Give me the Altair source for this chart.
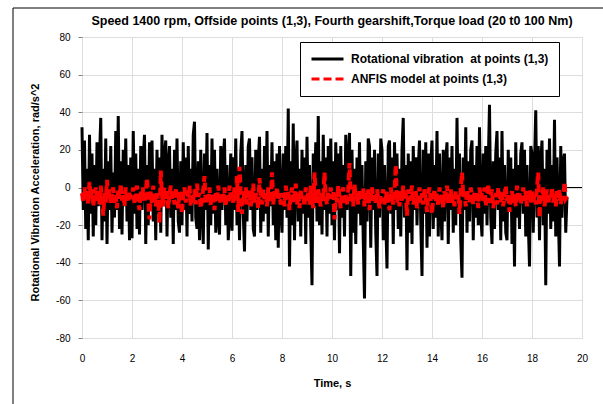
import altair as alt
import pandas as pd

STEP = 0.05  # sampling interval, s

vibration = [
    32, -12, 25, -22, 10, -28, 28, -14, 18, -26, 12, -20, 24, -10, 16, 37, -28, 10, -18, 26,
    -30, 14, -12, 22, -24, 8, -16, 30, -12, 38, -22, 14, -25, 20, -10, 26, -18, 12, -28, 16,
    -27, 30, -14, 18, -22, 10, -25, 22, -12, 16, 28, -30, 12, -20, 24, -12, 25, -18, 10, -28,
    20, -14, 16, -24, 28, -10, 18, 25, -26, 12, 22, -16, 10, -30, 20, -12, 26, -18, -24, 14,
    -20, 24, -12, 16, -26, 22, -14, 10, -18, 28, 35, -16, -22, 14, -28, 20, -10, -30, 18, -12,
    29, -33, 12, -20, 26, -14, 20, -24, 10, -16, -25, 22, -12, 16, 26, -20, 12, -28, -14, 18,
    -23, 16, -12, 26, -20, 10, -28, 18, 30, -14, -34, 12, -18, 22, 26, -12, 16, -22, -26, 20,
    -12, 14, 27, -24, 10, -18, 22, -14, 30, -26, 12, -10, 24, -20, 14, -28, 18, -32, 22, -12,
    -24, 18, -12, 22, -16, 42, -42, 14, -20, 34, -28, 12, 25, -18, 10, -26, 20, -14, 16, -30,
    27, -16, 12, -22, -52, 18, -10, 24, -18, 38, -20, 14, -25, 28, -12, 16, -26, 22, -14, 26,
    -20, 14, -28, 24, -12, 18, -35, 22, -16, 12, -26, 28, -12, 16, 29, -47, 20, -24, 10, -30,
    16, -14, 24, -20, 12, -28, -59, 14, -18, 26, 22, -32, 16, -12, 20, -24, -47, 18, -16, 26,
    20, -28, 12, -18, -43, 22, 25, -14, 16, -30, 24, -12, 18, -22, 10, -26, 20, 37, -16, 12,
    -44, 18, -24, 14, -30, 22, -12, 16, -20, 10, 25, -18, -47, 20, -14, 24, -32, 18, -26, 12,
    25, -22, 12, -16, 30, -26, 18, -12, -28, 20, -18, 14, 24, -30, 16, -12, 22, -24, 10, -20,
    37, -14, 18, -28, -48, 16, -12, 32, -24, 14, -18, 20, 25, -28, 12, -16, 22, -20, 32, -14,
    -26, 18, -14, 22, -20, 12, 44, -16, -30, 14, -22, 18, 30, -12, 16, -28, 30, -18, 12, -24,
    -28, 20, -12, 16, -30, 10, -42, 24, -16, 12, -22, 18, 24, -14, 20, -26, 12, -18, -42, 22,
    18, -24, 12, 41, -16, 22, -28, 14, 25, -20, 10, -52, 20, -14, 26, -22, 12, -18, 36, -26,
    16, -12, -42, 22, -16, 14, 18, -24, -5,
]

anfis = [
    -3, -8, 0, -6, -2, -9, 3, -5, -1, -10, -4, 0, -7, -2, -9, 1, -6, -15, -3, -8,
    4, -6, -1, -9, -3, 0, -8, -4, -11, -1, -6, 2, -7, -3, -10, 0, -5, -8, -2, -6,
    -4, 0, -9, -3, 1, -7, -12, -2, -6, 0, -8, -3, 5, -6, -17, -2, -9, 1, -5, -10,
    -3, -7, -19, 9, -4, -10, 0, -6, -2, -11, -4, 1, -7, -3, -9, 0, -6, -11, -2, -5,
    -14, -3, 0, -8, -2, -6, 1, -10, -4, -7, -1, -9, 2, -5, -3, -11, -6, -1, 6, -9,
    -4, -7, 0, -10, -3, -6, -12, -2, -8, 1, -5, -9, -3, -6, 0, -10, -4, -7, 1, -5,
    -4, -8, 0, -7, 6, -13, 11, -3, -14, -2, -7, 0, -9, -4, -1, -10, -5, 2, -8, -3,
    -6, -11, 5, -4, -9, -1, -6, -3, -10, 0, -5, -8, 8, -9, -2, -6, 0, -7, -3, -9,
    -7, -3, -10, 1, -6, -2, -12, -4, 0, -8, -5, 2, -9, -3, -11, -1, -6, -4, -10, 0,
    -7, -3, -9, 1, -5, -11, 8, -4, -8, -1, -6, -10, -2, -7, 8, -5, -9, -2, -6, 0,
    -6, -2, -17, -3, -8, 1, -5, -11, -3, 0, -8, -4, -9, -1, 13, -7, -4, -10, 2, -6,
    -3, -9, -1, -7, -4, 0, -10, -3, -8, -1, -12, -5, 0, -7, -3, -9, -1, -6, -11, -4,
    -4, -1, -9, -6, -2, -8, -12, 0, -5, -9, -3, 12, -8, -5, -10, -2, -7, 1, -6, -3,
    -15, -1, -7, -4, 1, -9, -6, -2, -11, -5, 0, -8, -3, -9, -1, -6, -13, -3, 0, -7,
    -14, -5, -1, -8, -3, -10, 0, -6, -4, -11, -2, -7, 1, -9, -4, -1, -8, -5, -10, -2,
    -6, -3, -14, -1, 8, -5, -3, -10, -1, -6, -8, 0, -4, -9, -2, -7, -3, -11, 0, -6,
    -3, -7, 0, -10, -5, 2, -8, -4, -1, -11, -6, -3, -9, 0, -5, -8, -2, -10, -4, 1,
    -7, -3, -13, -5, -2, -8, -4, -10, 1, -6, -3, -9, -5, 0, -7, -2, -10, -4, -1, -8,
    -2, -8, -4, -9, 0, 8, -16, -3, -7, 0, -10, -5, -1, -9, -4, -6, 0, -8, -3, -10,
    -2, -6, -1, -9, -4, -7, 3, -6, -5,
]

series_names = ["Rotational vibration \u00a0at points (1,3)", "ANFIS model at points (1,3)"]
series_colors = ["#000000", "#ff0000"]
x_ticks = [0, 2, 4, 6, 8, 10, 12, 14, 16, 18, 20]
y_ticks = [-80, -60, -40, -20, 0, 20, 40, 60, 80]

time = [round(i * STEP, 2) for i in range(len(vibration))]
df_vib = pd.DataFrame({"t": time, "v": vibration, "series": series_names[0]})
df_anf = pd.DataFrame({"t": time, "v": anfis, "series": series_names[1]})
df_axis = pd.DataFrame({"t": [x_ticks[0]], "t2": [x_ticks[-1]], "v": [0]})

FONT = "Liberation Sans, Arial, sans-serif"

xenc = alt.X("t:Q", scale=alt.Scale(domain=[0, 20], nice=False, zero=False),
             axis=alt.Axis(values=x_ticks, title="Time, s", grid=True, ticks=False, domain=False,
                           labelPadding=15, titleX=250, titleY=45, titleBaseline="middle",
                           labelFlush=False, labelOverlap=False,
                           labelExpr="toString(datum.value)"))
yenc = alt.Y("v:Q", scale=alt.Scale(domain=[-80, 80], nice=False),
             axis=alt.Axis(values=y_ticks, title="Rotational Vibration Acceleration, rad/s^2",
                           grid=True, ticks=True, tickSize=4, tickColor="#808080",
                           domain=False, labelPadding=8, labelOverlap=False,
                           labelExpr="toString(datum.value)",
                           titleX=-47, titleY=155, titleAngle=270, titleBaseline="middle",
                           titleAlign="center"))

color = alt.Color("series:N", scale=alt.Scale(domain=series_names, range=series_colors),
                  legend=alt.Legend(title=None, orient="none", legendX=218, legendY=5,
                                    symbolType="stroke", symbolSize=1024, symbolStrokeWidth=3,
                                    clipHeight=14, labelOffset=6,
                                    labelFontSize=12, labelFont=FONT, labelFontWeight="bold",
                                    labelColor="black",
                                    strokeColor="black", fillColor="white", padding=10,
                                    rowPadding=6, labelLimit=400, direction="vertical"))
dash = alt.StrokeDash("series:N", scale=alt.Scale(domain=series_names, range=[[1, 0], [8, 4]]),
                      legend=None)

frame_left = alt.Chart(pd.DataFrame({"k": [0]})).mark_rule(color="black", strokeWidth=1).encode(
    x=alt.value(-69), y=alt.value(-29), y2=alt.value(380))
frame_top = alt.Chart(pd.DataFrame({"k": [0]})).mark_rule(color="black", strokeWidth=1).encode(
    x=alt.value(-69), x2=alt.value(530), y=alt.value(-29))

vib_line = alt.Chart(df_vib).mark_line(strokeWidth=3).encode(
    x=xenc, y=yenc, color=color, strokeDash=dash, order="t:Q")
zero_line = alt.Chart(df_axis).mark_rule(color="black", strokeWidth=1).encode(
    x=xenc, x2="t2:Q", y=yenc)
anf_line = alt.Chart(df_anf).mark_line(strokeWidth=4).encode(
    x=xenc, y=yenc, color=color, strokeDash=dash, order="t:Q")

chart = alt.layer(vib_line, zero_line, anf_line, frame_left, frame_top).properties(
    width=500, height=301,
    title=alt.TitleParams(
        "Speed 1400 rpm, Offside points (1,3), Fourth gearshift,Torque load (20 t0 100 Nm)",
        anchor="middle", font=FONT, fontSize=12.5, fontWeight="bold", color="black",
        offset=0, baseline="alphabetic", dy=30),
    autosize=alt.AutoSizeParams(type="none"),
    padding={"left": 82, "top": 37, "right": 21, "bottom": 66},
).configure_view(
    stroke="#808080", strokeWidth=2.5
).configure_axis(
    gridColor="#8c8c8c", gridWidth=1, gridOpacity=1,
    labelFont=FONT, labelFontSize=11, labelFontWeight="bold", labelColor="black",
    titleFont=FONT, titleFontSize=13, titleFontWeight="bold", titleColor="black",
).configure(background="white")

chart.save("out.html", embed_options={"renderer": "svg", "actions": False})
